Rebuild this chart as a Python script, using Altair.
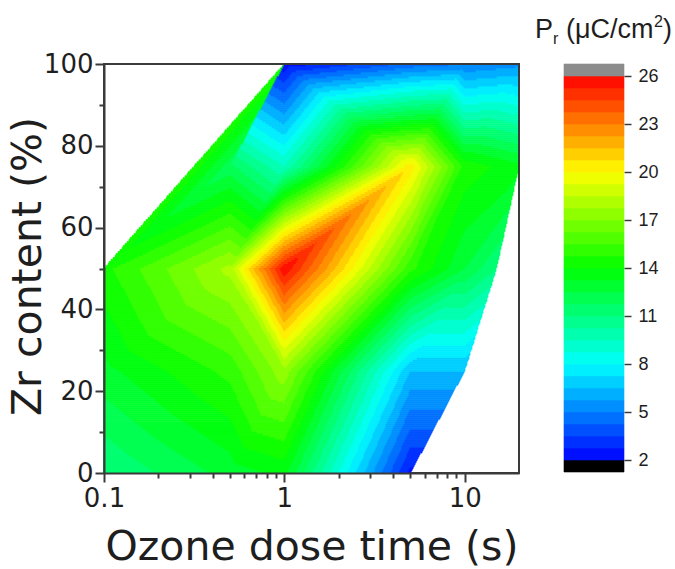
import math
import numpy as np
import pandas as pd
import altair as alt

# Remanent polarisation Pr (uC/cm^2) sampled over ozone dose time (s) and Zr content (%)
dose_time = [0.1, 0.5, 1, 5,
             0.1, 0.5, 1, 5, 10,
             0.1, 0.5, 1, 5, 10, 15,
             0.5, 1, 5, 10, 20,
             1, 1, 5, 10, 20]
zr_content = [0, 0, 0, 0,
              25, 25, 25, 25, 25,
              50, 50, 50, 50, 50, 50,
              75, 75, 75, 75, 75,
              100, 100, 100, 100, 100]
pr_value = [11.0, 12.8, 13.5, 2.5,
            13.0, 15.0, 17.5, 6.5, 6.5,
            14.5, 18.0, 25.9, 15.0, 12.5, 11.0,
            12.0, 9.5, 20.5, 14.5, 13.5,
            14.5, 2.2, 4.5, 5.0, 5.5]

# Triangles of the contour mesh (indices into the sample arrays)
mesh = [(0, 1, 5), (0, 5, 4), (1, 2, 6), (1, 6, 5), (2, 3, 7), (2, 7, 6), (3, 8, 7),
        (4, 5, 10), (4, 10, 9), (5, 6, 10), (6, 11, 10), (6, 7, 12), (6, 12, 11),
        (7, 8, 13), (7, 13, 12), (8, 14, 13),
        (9, 10, 15), (9, 15, 20), (10, 11, 16), (10, 16, 15), (11, 12, 17), (11, 17, 16),
        (12, 13, 18), (12, 18, 17), (13, 14, 19), (13, 19, 18),
        (15, 16, 21), (16, 17, 21), (21, 17, 22), (17, 18, 23), (17, 23, 22),
        (18, 19, 24), (18, 24, 23)]

# Contour levels and ticks
level_min, level_max, level_step = 2.0, 26.0, 0.75
cbar_ticks = [2, 5, 8, 11, 14, 17, 20, 23, 26]
zr_ticks = [0, 10, 20, 30, 40, 50, 60, 70, 80, 90, 100]
dose_ticks = [0.1, 0.2, 0.3, 0.4, 0.5, 0.6, 0.7, 0.8, 0.9,
              1, 2, 3, 4, 5, 6, 7, 8, 9, 10]

# Rainbow palette anchors
palette_values = [2, 8, 14, 20, 26]
palette_rgb = [(0, 0, 255), (0, 255, 255), (0, 255, 0), (255, 255, 0), (255, 0, 0)]
below_color = "#000000"
above_color = "#8c8c8c"

PLOT_W, PLOT_H = 415, 409
X_MIN, X_MAX = 0.1, 20
INK = "#3a3a3a"
TEXT = "#1e1e1e"


def palette(v):
    r = np.interp(v, palette_values, [c[0] for c in palette_rgb])
    g = np.interp(v, palette_values, [c[1] for c in palette_rgb])
    b = np.interp(v, palette_values, [c[2] for c in palette_rgb])
    return "#%02x%02x%02x" % (int(round(r)), int(round(g)), int(round(b)))


n_levels = int(round((level_max - level_min) / level_step))
band_colors = [palette(level_min + (i + 0.5) * level_step) for i in range(n_levels)]


def band_color(k):
    if k < 0:
        return below_color
    if k >= n_levels:
        return above_color
    return band_colors[k]


# Linear interpolation over the mesh in (log10 time, Zr) space
u_pts = np.log10(np.array(dose_time, dtype=float))
y_pts = np.array(zr_content, dtype=float)
v_pts = np.array(pr_value, dtype=float)

nx, ny = PLOT_W, 205
u_edges = np.linspace(math.log10(X_MIN), math.log10(X_MAX), nx + 1)
y_edges = np.linspace(0, 100, ny + 1)
U, Y = np.meshgrid((u_edges[:-1] + u_edges[1:]) / 2, (y_edges[:-1] + y_edges[1:]) / 2)
field = np.full(U.shape, np.nan)
for a, b, c in mesh:
    x1, y1, x2, y2, x3, y3 = u_pts[a], y_pts[a], u_pts[b], y_pts[b], u_pts[c], y_pts[c]
    det = (y2 - y3) * (x1 - x3) + (x3 - x2) * (y1 - y3)
    l1 = ((y2 - y3) * (U - x3) + (x3 - x2) * (Y - y3)) / det
    l2 = ((y3 - y1) * (U - x3) + (x1 - x3) * (Y - y3)) / det
    l3 = 1 - l1 - l2
    inside = (l1 >= -1e-9) & (l2 >= -1e-9) & (l3 >= -1e-9) & np.isnan(field)
    field[inside] = (l1 * v_pts[a] + l2 * v_pts[b] + l3 * v_pts[c])[inside]

band = np.where(np.isnan(field), -99, np.floor((np.nan_to_num(field) - level_min) / level_step))
band = np.where(band == -99, -99, np.clip(band, -1, n_levels)).astype(int)

# Merge equal-level cells along each row into filled runs
runs = []
for j in range(ny):
    row = band[j]
    i = 0
    while i < nx:
        k = row[i]
        i0 = i
        while i < nx and row[i] == k:
            i += 1
        if k != -99:
            runs.append({"t0": 10 ** u_edges[i0], "t1": 10 ** u_edges[i],
                         "z0": y_edges[j], "z1": y_edges[j + 1], "c": band_color(k)})
runs_df = pd.DataFrame(runs)

x_axis = alt.Axis(
    values=dose_ticks, title="Ozone dose time (s)",
    labelExpr="datum.value == 0.1 ? '0.1' : datum.value == 1 ? '1' : datum.value == 10 ? '10' : ''",
    tickSize={"condition": {"test": "datum.value == 0.1 || datum.value == 1 || datum.value == 10",
                            "value": 9}, "value": 5},
    labelFontSize=26, titleFontSize=41, labelPadding=3,
    titleX=PLOT_W / 2, titleY=86, titleBaseline="alphabetic", titleAlign="center",
    labelFlush=False, zindex=1)
y_axis = alt.Axis(
    values=zr_ticks, title="Zr content (%)",
    labelExpr="datum.value % 20 == 0 ? datum.label : ''",
    tickSize={"condition": {"test": "datum.value % 20 == 0", "value": 9}, "value": 5},
    labelFontSize=26, titleFontSize=41, labelPadding=2,
    titleX=-64, titleY=202, titleBaseline="alphabetic", titleAlign="center", titleAngle=270,
    labelFlush=False, zindex=1)

contour = alt.Chart(runs_df).mark_rect(strokeWidth=0.8).encode(
    x=alt.X("t0:Q", scale=alt.Scale(type="log", domain=[X_MIN, X_MAX], nice=False), axis=x_axis),
    x2="t1:Q",
    y=alt.Y("z0:Q", scale=alt.Scale(domain=[0, 100], nice=False), axis=y_axis),
    y2="z1:Q",
    fill=alt.Fill("c:N", scale=None),
    stroke=alt.Stroke("c:N", scale=None),
)

one = pd.DataFrame({"k": [0]})
frame_top = alt.Chart(one).mark_rule(color=INK, strokeWidth=2).encode(
    x=alt.value(0), x2=alt.value(PLOT_W), y=alt.value(0))
frame_right = alt.Chart(one).mark_rule(color=INK, strokeWidth=2).encode(
    x=alt.value(PLOT_W), y=alt.value(0), y2=alt.value(PLOT_H))

main = alt.layer(contour, frame_top, frame_right).properties(width=PLOT_W, height=PLOT_H)

# Colour scale bar with under/over boxes
cb_lo = [level_min - level_step] + [level_min + i * level_step for i in range(n_levels)] + [level_max]
cb_hi = [level_min] + [level_min + (i + 1) * level_step for i in range(n_levels)] + [level_max + level_step]
cb_col = [below_color] + band_colors + [above_color]
cb_df = pd.DataFrame({"lo": cb_lo, "hi": cb_hi, "c": cb_col})

CB_W, CB_H = 60, 408
cbar_rect = alt.Chart(cb_df).mark_rect(strokeWidth=0.6).encode(
    x=alt.value(0), x2=alt.value(CB_W),
    y=alt.Y("lo:Q", scale=alt.Scale(domain=[level_min - level_step, level_max + level_step],
                                    nice=False, zero=False),
            axis=alt.Axis(orient="right", values=cbar_ticks, title=None, domain=False,
                          tickSize=7, labelPadding=7, labelFontSize=18,
                          labelFont="Liberation Sans", labelColor=TEXT, tickColor=INK,
                          tickWidth=1.5)),
    y2="hi:Q",
    fill=alt.Fill("c:N", scale=None),
    stroke=alt.Stroke("c:N", scale=None),
)

title_parts = [("P", -29, -26, 27), ("r", -11, -20, 16), ("(\u03bcC/cm", 2, -26, 27),
               ("2", 90, -37, 16), (")", 99, -26, 27)]
title_layers = [
    alt.Chart(one).mark_text(text=t, align="left", baseline="alphabetic", fontSize=s,
                             font="Liberation Sans", color=TEXT).encode(
        x=alt.value(dx), y=alt.value(dy))
    for t, dx, dy, s in title_parts
]

cbar = alt.layer(cbar_rect, *title_layers).properties(
    width=CB_W, height=CB_H, view=alt.ViewBackground(strokeWidth=0))

chart = alt.hconcat(main, cbar, spacing=14).properties(
    padding={"left": 5, "right": 0, "top": 14, "bottom": 0}
).configure_view(
    stroke=INK, strokeWidth=2
).configure_axis(
    domainColor=INK, domainWidth=2, tickColor=INK, tickWidth=2, grid=False,
    labelFont="DejaVu Sans", titleFont="DejaVu Sans", titleFontWeight="normal",
    labelColor=TEXT, titleColor=TEXT
)

chart.save("out.html", embed_options={"renderer": "svg", "actions": False})
